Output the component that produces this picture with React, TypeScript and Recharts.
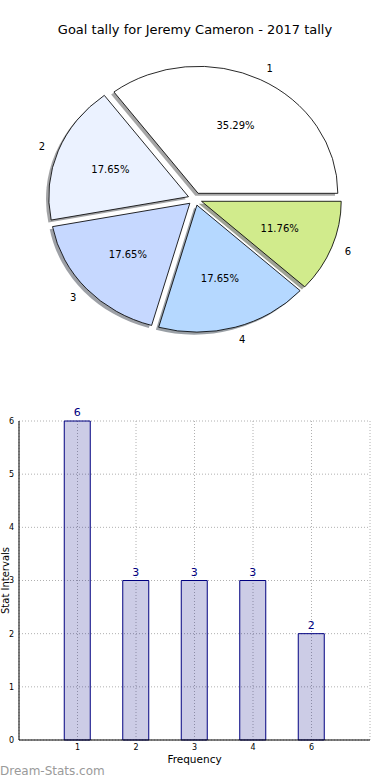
import React from "react";
import {
  PieChart,
  Pie,
  Cell,
  BarChart,
  Bar,
  XAxis,
  YAxis,
  CartesianGrid,
  LabelList,
  Label,
} from "recharts";

// goal tally per game
const categories = ["1", "2", "3", "4", "6"];
const tallyCounts = [6, 3, 3, 3, 2];
const sliceColors = ["#ffffff", "#ebf2ff", "#c6d8ff", "#b5d8ff", "#d1eb8c"];
const yTicks = [0, 1, 2, 3, 4, 5, 6];

const RADIAN = Math.PI / 180;
const SX = 1.1; // matplotlib pie is stretched horizontally
const PIE_CX = 195;
const PIE_CY = 199;
const PIE_R = 127;
const EXPLODE = 0.05;
const SHADOW = 0.02;

const pieData = categories.map((name, i) => ({ name, value: tallyCounts[i] }));
const barData = categories.map((label, i) => ({ pos: i + 1, label, value: tallyCounts[i] }));

const total = tallyCounts.reduce((a, b) => a + b, 0);
const midAngles = tallyCounts.map((v, i) => {
  const before = tallyCounts.slice(0, i).reduce((a, b) => a + b, 0);
  return ((before + v / 2) / total) * 360;
});

// shadow colour like matplotlib: 0.3 * face colour
function shade(hex: string) {
  const n = parseInt(hex.slice(1), 16);
  const r = Math.round(((n >> 16) & 255) * 0.3);
  const g = Math.round(((n >> 8) & 255) * 0.3);
  const b = Math.round((n & 255) * 0.3);
  return `rgb(${r},${g},${b})`;
}

function makeLabel(slice: number) {
  return (props: any) => {
    if (props.index !== slice) return null;
    const { cx, cy, midAngle, outerRadius, percent, name } = props;
    const cos = Math.cos(-midAngle * RADIAN);
    const sin = Math.sin(-midAngle * RADIAN);
    const px = cx + outerRadius * 0.6 * cos;
    const py = cy + outerRadius * 0.6 * sin;
    const nx = cx + outerRadius * 1.1 * cos;
    const ny = cy + outerRadius * 1.1 * sin;
    return (
      <g>
        <text
          transform={`translate(${px},${py}) scale(${1 / SX},1)`}
          textAnchor="middle"
          dominantBaseline="central"
          fontSize={10}
          fill="#000"
        >
          {`${(percent * 100).toFixed(2)}%`}
        </text>
        <text
          transform={`translate(${nx},${ny}) scale(${1 / SX},1)`}
          textAnchor={cos >= 0 ? "start" : "end"}
          dominantBaseline="central"
          fontSize={10}
          fill="#000"
        >
          {name}
        </text>
      </g>
    );
  };
}

export default function App() {
  const offsets = midAngles.map((a) => ({
    dx: EXPLODE * PIE_R * Math.cos(a * RADIAN),
    dy: -EXPLODE * PIE_R * Math.sin(a * RADIAN),
  }));

  return (
    <div
      style={{
        position: "absolute",
        left: 0,
        top: 0,
        width: 390,
        height: 780,
        background: "#fff",
        overflow: "hidden",
        fontFamily: "'DejaVu Sans', sans-serif",
      }}
    >
      <div
        style={{
          position: "absolute",
          top: 22,
          left: 0,
          width: 390,
          textAlign: "center",
          fontSize: 13,
          lineHeight: "15px",
          color: "#000",
        }}
      >
        Goal tally for Jeremy Cameron - 2017 tally
      </div>

      <div
        style={{
          position: "absolute",
          top: 0,
          left: 0,
          width: 390,
          height: 370,
          transform: `scaleX(${SX})`,
          transformOrigin: `${PIE_CX}px 0px`,
        }}
      >
        <PieChart width={390} height={370} margin={{ top: 0, right: 0, bottom: 0, left: 0 }}>
          {/* shadows first, behind every wedge */}
          {categories.map((_, s) => (
            <Pie
              key={`shadow-${s}`}
              data={pieData}
              dataKey="value"
              nameKey="name"
              cx={PIE_CX + offsets[s].dx - SHADOW * PIE_R}
              cy={PIE_CY + offsets[s].dy + SHADOW * PIE_R}
              outerRadius={PIE_R}
              startAngle={0}
              endAngle={360}
              labelLine={false}
              isAnimationActive={false}
            >
              {pieData.map((_, j) => (
                <Cell
                  key={j}
                  fill={j === s ? shade(sliceColors[j]) : "none"}
                  fillOpacity={0.5}
                  stroke="none"
                />
              ))}
            </Pie>
          ))}
          {categories.map((_, s) => (
            <Pie
              key={`slice-${s}`}
              data={pieData}
              dataKey="value"
              nameKey="name"
              cx={PIE_CX + offsets[s].dx}
              cy={PIE_CY + offsets[s].dy}
              outerRadius={PIE_R}
              startAngle={0}
              endAngle={360}
              labelLine={false}
              label={makeLabel(s)}
              isAnimationActive={false}
            >
              {pieData.map((_, j) => (
                <Cell
                  key={j}
                  fill={j === s ? sliceColors[j] : "none"}
                  stroke={j === s ? "#000" : "none"}
                  strokeWidth={0.8}
                />
              ))}
            </Pie>
          ))}
        </PieChart>
      </div>

      <div style={{ position: "absolute", top: 400, left: 0 }}>
        <BarChart
          width={390}
          height={380}
          data={barData}
          margin={{ top: 21, right: 20, bottom: 0, left: 0 }}
        >
          <CartesianGrid stroke="#b0b0b0" strokeDasharray="1 2" />
          <XAxis
            dataKey="pos"
            type="number"
            domain={[0, 6]}
            ticks={[1, 2, 3, 4, 5]}
            tickFormatter={(v) => categories[v - 1] ?? ""}
            height={40}
            tickSize={0}
            tickMargin={4}
            tick={{ fontSize: 8, fill: "#000" }}
            axisLine={{ stroke: "#000" }}
          >
            <Label value="Frequency" position="insideTop" offset={16} fontSize={10.5} fill="#000" />
          </XAxis>
          <XAxis
            xAxisId="top"
            orientation="top"
            type="number"
            domain={[0, 6]}
            height={0}
            tick={false}
            tickLine={false}
            axisLine={{ stroke: "#000" }}
          />
          <YAxis
            domain={[0, 6]}
            ticks={yTicks}
            width={19}
            tickSize={0}
            tickMargin={5}
            tick={{ fontSize: 8, fill: "#000" }}
            axisLine={{ stroke: "#000" }}
          >
            <Label
              value="Stat Intervals"
              angle={-90}
              position="insideLeft"
              offset={5.5}
              fontSize={10}
              fill="#000"
              style={{ textAnchor: "middle" }}
            />
          </YAxis>
          <YAxis
            yAxisId="right"
            orientation="right"
            domain={[0, 6]}
            width={0}
            tick={false}
            tickLine={false}
            axisLine={{ stroke: "#000" }}
          />
          <Bar
            dataKey="value"
            barSize={26}
            fill="#000080"
            fillOpacity={0.2}
            stroke="#000080"
            strokeWidth={1}
            isAnimationActive={false}
          >
            <LabelList dataKey="value" position="top" fill="#000080" fontSize={11} />
          </Bar>
        </BarChart>
      </div>

      <div
        style={{
          position: "absolute",
          left: 0,
          top: 764,
          fontSize: 12,
          lineHeight: "14px",
          color: "#9a9a9a",
        }}
      >
        Dream-Stats.com
      </div>
    </div>
  );
}
